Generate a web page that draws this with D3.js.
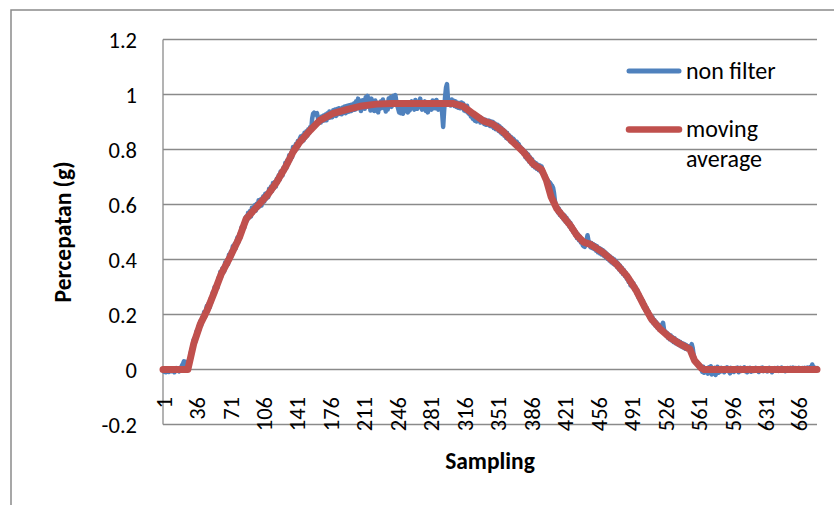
<!DOCTYPE html>
<html>
<head>
<meta charset="utf-8">
<script src="https://cdn.jsdelivr.net/npm/d3@7"></script>
<style>
  html, body { margin: 0; padding: 0; background: #ffffff; }
  svg { display: block; }
  text { font-family: Calibri, Carlito, Lato, sans-serif; fill: #000; }
</style>
</head>
<body>
<svg id="chart" width="834" height="505"></svg>
<script>
// Raw accelerometer readings (g), one per sample, starting at sample 1
const nonFilter = [
  0,-.008,.002,-.01,0,.004,-.009,-.002,.003,-.006,
  .002,-.004,-.01,0,.005,-.003,.002,-.007,.004,.008,
  .015,.022,.03,.018,.028,.012,.004,.025,.022,.06,
  .075,.069,.108,.114,.103,.138,.128,.156,.145,.175,
  .16,.189,.18,.209,.19,.219,.232,.215,.243,.226,
  .259,.246,.28,.267,.3,.283,.308,.297,.333,.324,
  .355,.338,.367,.369,.356,.389,.375,.398,.383,.417,
  .4,.429,.413,.448,.431,.457,.44,.469,.481,.464,
  .493,.481,.516,.502,.529,.515,.55,.556,.542,.57,
  .552,.576,.556,.588,.57,.589,.597,.577,.603,.587,
  .615,.593,.618,.596,.622,.63,.611,.639,.621,.643,
  .626,.657,.642,.665,.648,.678,.659,.682,.665,.694,
  .68,.706,.69,.72,.718,.706,.734,.722,.752,.732,
  .761,.748,.779,.76,.787,.772,.809,.806,.795,.82,
  .802,.831,.814,.839,.847,.829,.851,.833,.861,.843,
  .866,.85,.874,.86,.882,.872,.912,.93,.934,.928,
  .93,.932,.916,.896,.914,.898,.92,.904,.924,.906,
  .927,.906,.932,.914,.938,.916,.935,.917,.943,.926,
  .945,.922,.947,.928,.95,.93,.948,.928,.953,.934,
  .956,.932,.958,.936,.96,.938,.962,.94,.964,.944,
  .968,.945,.975,.95,.985,.958,.972,.94,.978,.952,
  .98,.948,.99,.955,.995,.96,.975,.942,.985,.95,
  .972,.94,.978,.945,.97,.935,.965,.948,.975,.955,
  .982,.95,.97,.938,.968,.945,.985,.96,.99,.955,
  .975,.995,.988,.998,.975,.96,.948,.935,.95,.932,
  .945,.93,.955,.94,.962,.945,.935,.95,.942,.965,
  .975,.95,.968,.945,.98,.96,.948,.972,.958,.985,
  .96,.945,.97,.952,.975,.94,.962,.935,.97,.95,
  .965,.945,.978,.955,.97,.95,.98,.96,.945,.968,
  .958,.97,.93,.882,.94,.99,1.025,1.038,.985,.965,
  .978,.96,.982,.965,.978,.958,.975,.955,.97,.952,
  .969,.95,.971,.95,.967,.942,.958,.939,.959,.934,
  .93,.935,.92,.928,.912,.922,.905,.918,.902,.915,
  .905,.918,.898,.915,.9,.91,.893,.908,.89,.905,
  .89,.905,.886,.902,.884,.9,.878,.895,.874,.89,
  .89,.868,.885,.862,.878,.856,.872,.85,.866,.842,
  .86,.838,.852,.83,.846,.838,.84,.836,.83,.826,
  .828,.818,.82,.81,.808,.792,.802,.784,.795,.772,
  .788,.765,.782,.756,.772,.748,.765,.74,.755,.735,
  .75,.73,.745,.725,.742,.72,.738,.726,.718,.708,
  .705,.695,.69,.685,.682,.678,.672,.668,.66,.64,
  .61,.59,.59,.572,.586,.562,.575,.555,.566,.546,
  .56,.538,.552,.53,.542,.52,.534,.51,.522,.5,
  .51,.49,.5,.478,.492,.47,.484,.462,.475,.452,
  .448,.446,.452,.47,.488,.468,.455,.445,.46,.442,
  .456,.438,.452,.432,.448,.426,.442,.422,.438,.418,
  .434,.414,.428,.408,.422,.402,.416,.396,.41,.39,
  .405,.385,.4,.38,.394,.372,.386,.364,.378,.356,
  .37,.348,.362,.34,.352,.33,.342,.318,.332,.306,
  .322,.3,.314,.29,.302,.278,.29,.264,.276,.252,
  .262,.238,.25,.225,.236,.212,.224,.2,.21,.188,
  .198,.176,.19,.168,.18,.16,.172,.152,.164,.145,
  .155,.15,.162,.17,.145,.138,.124,.134,.116,.128,
  .11,.124,.106,.118,.1,.114,.096,.108,.092,.104,
  .088,.1,.084,.096,.08,.093,.076,.089,.074,.085,
  .078,.08,.085,.092,.078,.052,.038,.03,.025,.022,
  .018,.01,.005,.002,-.008,.01,-.012,.005,-.01,.003,
  -.015,.008,-.005,.012,-.018,.004,-.01,.006,-.02,.002,
  .01,-.012,.004,-.008,.006,-.004,.002,-.01,.005,-.003,
  .008,-.006,.003,-.014,.006,-.002,.004,-.009,.002,.005,
  -.004,.007,-.01,.002,.006,-.005,.003,-.002,.008,-.006,
  .002,-.01,.005,-.003,.006,-.008,.002,.004,-.005,.001,
  .006,-.004,.003,-.009,.002,.005,-.003,.007,-.006,.002,
  -.002,.004,-.007,.003,.006,-.004,.002,-.01,.004,.001,
  .005,-.003,.002,.006,-.005,.003,-.002,.007,-.004,.002,
  .004,-.006,.003,.005,-.002,.004,.006,-.003,.002,.007,
  .004,-.002,.005,.003,-.004,.006,.002,.004,-.003,.005,
  .003,.006,-.002,.004,.007,.002,.005,.009,.004,.018,
  .008,.004,.006,.002,.005
];

// Moving-average trace: sample numbers and smoothed values (g)
const maSample = [1,27,33,40,47,54,62,71,81,88,99,110,120,130,137,144,155,165,179,193,
  207,224,240,305,315,325,336,346,357,367,378,388,397,402,407,413,420,427,434,441,
  448,461,475,486,496,505,512,521,531,542,552,557,564,567,685];
const maValue = [0,0,.092,.165,.214,.275,.348,.408,.481,.548,.591,.633,.682,.742,.791,.827,.870,.906,.931,.945,
  .957,.965,.967,.967,.957,.931,.904,.892,.864,.827,.791,.748,.727,.688,.627,.584,.554,.524,.487,.463,
  .455,.426,.384,.341,.287,.226,.183,.147,.117,.092,.074,.032,.005,0,0];

const xTickLabels = [1,36,71,106,141,176,211,246,281,316,351,386,421,456,491,526,561,596,631,666];
const yTicks = [-0.2, 0, 0.2, 0.4, 0.6, 0.8, 1, 1.2];
const yTickLabels = ["-0.2", "0", "0.2", "0.4", "0.6", "0.8", "1", "1.2"];
const seriesNames = ["non filter", "moving average"];
const seriesColors = ["#4F81BD", "#C0504D"];
const xTitle = "Sampling";
const yTitle = "Percepatan (g)";

const svg = d3.select("#chart");
const plot = { left: 163, right: 817, top: 39.5, bottom: 424.5 };
const gridColor = "#8a8a8a";

const x = d3.scaleLinear().domain([1, nonFilter.length]).range([plot.left, plot.right]);
const y = d3.scaleLinear().domain([-0.2, 1.2]).range([plot.bottom, plot.top]);

// outer chart frame
svg.append("rect")
  .attr("x", 11).attr("y", 10).attr("width", 900).attr("height", 600)
  .attr("fill", "none").attr("stroke", gridColor).attr("stroke-width", 1.5);

// horizontal gridlines
svg.append("g").selectAll("line").data(yTicks).join("line")
  .attr("x1", plot.left).attr("x2", plot.right)
  .attr("y1", d => y(d)).attr("y2", d => y(d))
  .attr("stroke", gridColor).attr("stroke-width", 1.3);

// vertical value axis line
svg.append("line")
  .attr("x1", plot.left).attr("x2", plot.left)
  .attr("y1", plot.top).attr("y2", plot.bottom)
  .attr("stroke", gridColor).attr("stroke-width", 1.3);

// value axis labels
const yAxis = svg.append("g")
  .attr("transform", `translate(${plot.left},0)`)
  .call(d3.axisLeft(y).tickValues(yTicks).tickSize(0).tickPadding(26)
    .tickFormat((d, i) => yTickLabels[i]));
yAxis.select(".domain").remove();
yAxis.selectAll("text")
  .attr("font-family", "Calibri, Carlito, Lato, sans-serif")
  .attr("font-size", 22.5).attr("fill", "#000").attr("dy", "0.36em");

// category axis labels, rotated
const xAxis = svg.append("g")
  .attr("transform", `translate(0,397)`)
  .call(d3.axisBottom(x).tickValues(xTickLabels).tickSize(0).tickFormat(d3.format("d")));
xAxis.select(".domain").remove();
xAxis.selectAll("text")
  .attr("font-family", "Calibri, Carlito, Lato, sans-serif")
  .attr("font-size", 22.5).attr("fill", "#000")
  .attr("transform", "rotate(-90)")
  .attr("x", 0).attr("y", 0).attr("dy", "0.36em")
  .attr("text-anchor", "end");

// series lines
const rawLine = d3.line().x((d, i) => x(i + 1)).y(d => y(d));
svg.append("path").datum(nonFilter)
  .attr("d", rawLine)
  .attr("fill", "none").attr("stroke", seriesColors[0])
  .attr("stroke-width", 4.5).attr("stroke-linejoin", "round").attr("stroke-linecap", "round");

const maPoints = maSample.map((s, i) => [s, maValue[i]]);
svg.append("path").datum(maPoints)
  .attr("d", d3.line().x(d => x(d[0])).y(d => y(d[1])))
  .attr("fill", "none").attr("stroke", seriesColors[1])
  .attr("stroke-width", 7).attr("stroke-linejoin", "round").attr("stroke-linecap", "round");

// axis titles
svg.append("text")
  .attr("x", (plot.left + plot.right) / 2).attr("y", 469)
  .attr("text-anchor", "middle").attr("font-weight", "bold").attr("font-size", 23.5)
  .text(xTitle);
svg.append("text")
  .attr("transform", `translate(71,${(plot.top + plot.bottom) / 2}) rotate(-90)`)
  .attr("text-anchor", "middle").attr("font-weight", "bold").attr("font-size", 23.5)
  .text(yTitle);

// legend
const legend = svg.append("g");
const legendRows = [
  { color: seriesColors[0], y: 71, lines: [seriesNames[0]] },
  { color: seriesColors[1], y: 129.5, lines: seriesNames[1].split(" ") }
];
legendRows.forEach((r, k) => {
  legend.append("line")
    .attr("x1", 629).attr("x2", 679).attr("y1", r.y).attr("y2", r.y)
    .attr("stroke", r.color).attr("stroke-width", k === 0 ? 5 : 6.5).attr("stroke-linecap", "round");
  const t = legend.append("text")
    .attr("x", 686).attr("y", r.y + 7.5).attr("font-size", 24);
  r.lines.forEach((ln, j) => {
    t.append("tspan").attr("x", 686).attr("dy", j === 0 ? 0 : 29.5).text(ln);
  });
});
</script>
</body>
</html>
